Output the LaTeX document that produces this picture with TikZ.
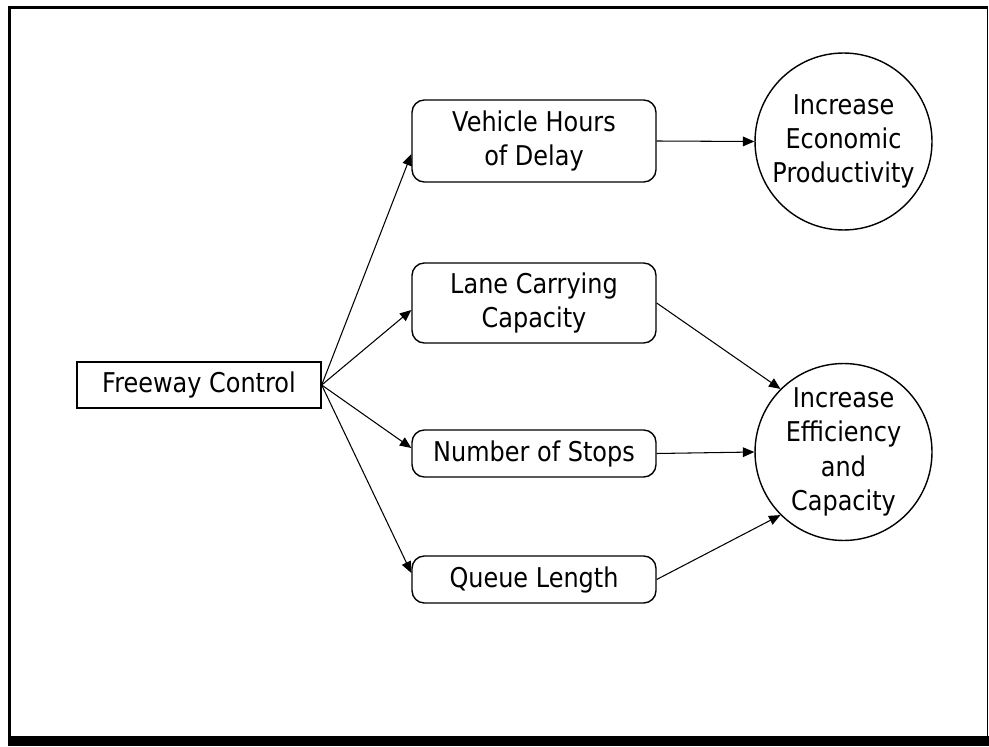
\documentclass[tikz,border=0pt]{standalone}
\usepackage{fontspec}
\setmainfont{DejaVu Sans}[FakeStretch=0.88]
\usetikzlibrary{shapes}
\usetikzlibrary{positioning}
\usetikzlibrary{arrows.meta}

\begin{document}
\begin{tikzpicture}[x=0.02cm,y=-0.02cm,
            -{Triangle[length=6.5pt,width=5.5pt]},
            line width=0.6pt,
            font=\fontsize{15.5}{19.5}\selectfont,
            box/.style = {draw,line width=0.8pt,minimum width=4.88cm,
                align=center,inner sep=0pt},
            rbox/.style = {box,rounded corners=7pt},
            goal/.style = {draw,circle,line width=0.8pt,minimum size=3.54cm,
                align=center,inner sep=0pt}]
            \useasboundingbox (0,0) rectangle (989,746);
            % frame
            \draw[-,line width=2pt] (9.5,737) |- (987.5,7.5);
            \draw[-,line width=0.8pt] (987.5,7.5) -- (987.5,737);
            \fill (8,736) rectangle (989,746);
            \node[box,minimum height=0.92cm] (fc) at (199,385) {Freeway Control};
            \node[rbox,minimum height=1.64cm] (vhd) at (534,141) {
                Vehicle Hours\\
                of Delay
            };
            \node[rbox,minimum height=1.6cm] (lcc) at (534,303) {
                Lane Carrying\\
                Capacity
            };
            \node[rbox,minimum height=0.94cm] (nos) at (534,453.5) {Number of Stops};
            \node[rbox,minimum height=0.94cm] (ql) at (534,579.5) {Queue Length};
            \node[goal] (iep) at (843.5,141.5) {
                Increase\\
                Economic\\
                Productivity
            };
            \node[goal] (iec) at (843.5,452) {
                Increase\\
                Efficiency\\
                and\\
                Capacity
            };
            \draw (fc.east) -- ([yshift=-0.26cm]vhd.west);
            \draw (fc.east) -- ([yshift=-0.14cm]lcc.west);
            \draw (fc.east) -- ([yshift=0.11cm]nos.west);
            \draw (fc.east) -- ([yshift=0.13cm]ql.west);
            \path
                (vhd.east) edge (iep.west)
                (lcc.east) edge (iec.135)
                (nos.east) edge (iec.west)
                (ql.east) edge (iec.225);
        \end{tikzpicture}
\end{document}
